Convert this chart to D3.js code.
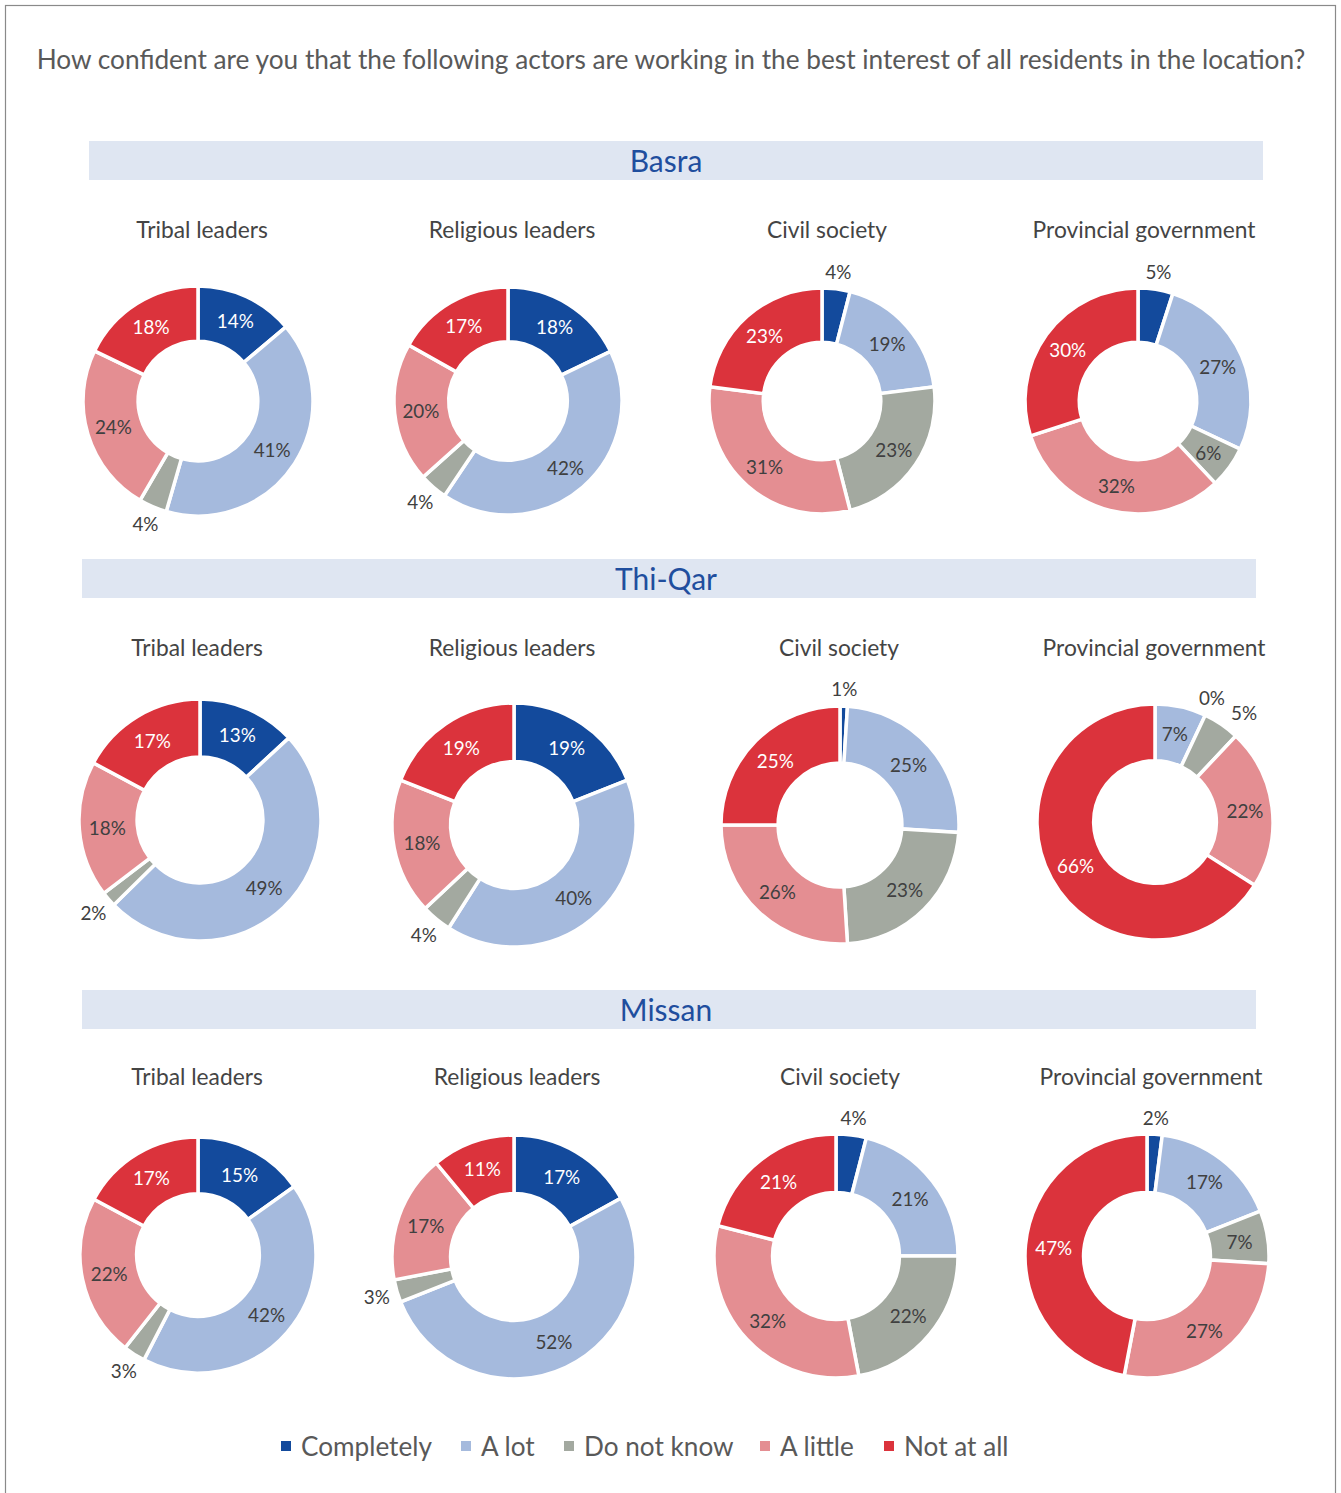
<!DOCTYPE html>
<html>
<head>
<meta charset="utf-8">
<script src="https://cdn.jsdelivr.net/npm/d3@7"></script>
<style>
  html, body { margin: 0; padding: 0; background: #fff; }
  svg { display: block; font-family: Lato, "Open Sans", sans-serif; }
</style>
</head>
<body>
<svg id="chart" width="1341" height="1493"></svg>
<script>
// ---------------- DATA ----------------
const titleText = "How confident are you that the following actors are working in the best interest of all residents in the location?";
const categories = ["Completely", "A lot", "Do not know", "A little", "Not at all"];
const regions = ["Basra", "Thi-Qar", "Missan"];
const actors = ["Tribal leaders", "Religious leaders", "Civil society", "Provincial government"];

// values per actor, in category order
const basraValues = [
  [14, 41, 4, 24, 18],
  [18, 42, 4, 20, 17],
  [4, 19, 23, 31, 23],
  [5, 27, 6, 32, 30]
];
const thiQarValues = [
  [13, 49, 2, 18, 17],
  [19, 40, 4, 18, 19],
  [1, 25, 23, 26, 25],
  [0, 7, 5, 22, 66]
];
const missanValues = [
  [15, 42, 3, 22, 17],
  [17, 52, 3, 17, 11],
  [4, 21, 22, 32, 21],
  [2, 17, 7, 27, 47]
];
const regionValues = [basraValues, thiQarValues, missanValues];

// ---------------- STYLE / LAYOUT ----------------
const colors = ["#134a9c", "#a5badd", "#a3a9a0", "#e48e92", "#db333c"];
const darkLabel = [true, false, false, false, true]; // white text on dark slices

const rowLayout = [
  { bannerX: 89, bannerY: 141, subY: 229,
    subX: [202, 512, 827, 1144],
    cx: [198, 508, 822, 1138], cy: [401, 401, 401, 401], r: [115, 114, 113, 113] },
  { bannerX: 82, bannerY: 559, subY: 647,
    subX: [197, 512, 839, 1154],
    cx: [200, 514, 840, 1155], cy: [820, 825, 825, 822], r: [121, 122, 119, 118] },
  { bannerX: 82, bannerY: 990, subY: 1076,
    subX: [197, 517, 840, 1151],
    cx: [198, 514, 836, 1147], cy: [1255, 1257, 1256, 1256], r: [118, 122, 122, 122] }
];
const bannerW = 1174, bannerH = 39;

const svg = d3.select("#chart");

function fitFont(text, targetWidth, base) {
  const t = svg.append("text").attr("font-size", base).text(text);
  const w = t.node().getComputedTextLength();
  t.remove();
  return base * targetWidth / w;
}

// border
svg.append("rect")
  .attr("x", 5.5).attr("y", 5.5)
  .attr("width", 1330).attr("height", 1520)
  .attr("fill", "none").attr("stroke", "#8a8a8a").attr("stroke-width", 1.2);

// title
const titleFs = fitFont(titleText, 1269, 24);
svg.append("text")
  .attr("x", 671).attr("y", 59)
  .attr("text-anchor", "middle").attr("dominant-baseline", "central")
  .attr("font-size", titleFs).attr("fill", "#595959")
  .text(titleText);

const regionFs = fitFont("Thi-Qar", 102, 26);
const subFs = fitFont("Provincial government", 223, 22);
const pctFs = fitFont("14%", 37, 20);

const pie = d3.pie().sort(null).value(d => d);

regionValues.forEach((vals, ri) => {
  const L = rowLayout[ri];
  // banner
  svg.append("rect")
    .attr("x", L.bannerX).attr("y", L.bannerY)
    .attr("width", bannerW).attr("height", bannerH)
    .attr("fill", "#dfe6f2");
  svg.append("text")
    .attr("x", 666).attr("y", L.bannerY + bannerH / 2 - 1)
    .attr("text-anchor", "middle").attr("dominant-baseline", "central")
    .attr("font-size", regionFs).attr("fill", "#1f4e9e")
    .text(regions[ri]);

  vals.forEach((series, ai) => {
    // subtitle
    svg.append("text")
      .attr("x", L.subX[ai]).attr("y", L.subY)
      .attr("text-anchor", "middle").attr("dominant-baseline", "central")
      .attr("font-size", subFs).attr("fill", "#444")
      .text(actors[ai]);

    const R = L.r[ai], rin = R * 0.52;
    const g = svg.append("g").attr("transform", `translate(${L.cx[ai]},${L.cy[ai]})`);
    const arc = d3.arc().innerRadius(rin).outerRadius(R);
    const midR = (R + rin) / 2 + 1;
    const arcs = pie(series);

    g.selectAll("path").data(arcs).join("path")
      .attr("d", arc)
      .attr("fill", (d, i) => colors[i])
      .attr("stroke", "#fff").attr("stroke-width", 3.5)
      .attr("stroke-linejoin", "miter");

    // label positions
    const placed = [];
    const labels = arcs.map((d, i) => {
      let a, r, pos;
      const outside = d.data < 6;
      if (outside) {
        a = (d.data === 0 && arcs[i + 1]) ? arcs[i + 1].endAngle - 0.01 : (d.startAngle + d.endAngle) / 2;
        r = R + 17 + 4 * Math.abs(Math.sin(a));
        // avoid overlap with labels already placed outside
        const box = (aa, rr) => ({ x: Math.sin(aa) * rr, y: -Math.cos(aa) * rr });
        pos = box(a, r);
        let guard = 0;
        while (placed.some(p => Math.abs(p.x - pos.x) < 32 && Math.abs(p.y - pos.y) < 18) && guard < 60) {
          a += 0.012; r += 0.6; pos = box(a, r); guard++;
        }
        placed.push(pos);
      } else {
        a = (d.startAngle + d.endAngle) / 2;
        pos = { x: Math.sin(a) * midR, y: -Math.cos(a) * midR };
      }
      return { d, i, outside, pos };
    });

    g.selectAll("text").data(labels).join("text")
      .attr("transform", l => `translate(${l.pos.x},${l.pos.y})`)
      .attr("text-anchor", "middle").attr("dominant-baseline", "central")
      .attr("font-size", pctFs)
      .attr("fill", l => (!l.outside && darkLabel[l.i]) ? "#ffffff" : "#404040")
      .text(l => l.d.data + "%");
  });
});

// legend
const legendFs = fitFont("Completely", 131, 26);
const legendStartX = [281, 461, 564, 760, 884];
const legend = svg.append("g");
categories.forEach((c, i) => {
  legend.append("rect")
    .attr("x", legendStartX[i]).attr("y", 1441)
    .attr("width", 10).attr("height", 10)
    .attr("fill", colors[i]);
  legend.append("text")
    .attr("x", legendStartX[i] + 20).attr("y", 1446)
    .attr("dominant-baseline", "central")
    .attr("font-size", legendFs).attr("fill", "#595959")
    .text(c);
});
</script>
</body>
</html>
